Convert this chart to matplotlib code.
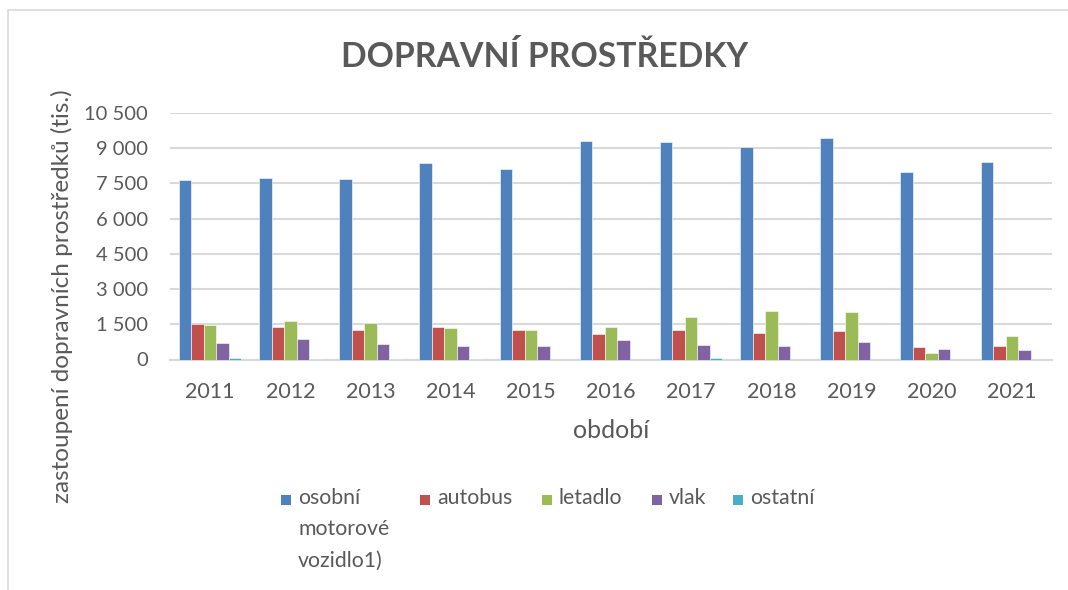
import numpy as np
import matplotlib
matplotlib.use('Agg')
import matplotlib.pyplot as plt
from matplotlib.patches import Rectangle
from matplotlib.ticker import FuncFormatter

plt.rcParams['font.family'] = ['Lato', 'DejaVu Sans']

# data (tis.)
years = ['2011', '2012', '2013', '2014', '2015', '2016', '2017', '2018', '2019', '2020', '2021']
osobni = [7650, 7730, 7700, 8370, 8130, 9300, 9260, 9040, 9450, 7980, 8410]
autobus = [1510, 1390, 1260, 1370, 1260, 1070, 1270, 1110, 1230, 540, 580]
letadlo = [1470, 1640, 1560, 1330, 1260, 1400, 1800, 2060, 2040, 260, 1010]
vlak = [710, 860, 640, 570, 580, 810, 600, 570, 740, 440, 390]
ostatni = [80, 40, 40, 30, 0, 0, 50, 0, 0, 0, 0]

series = [
    ('osobní\nmotorové\nvozidlo1)', osobni, '#4F81BD'),
    ('autobus', autobus, '#C0504D'),
    ('letadlo', letadlo, '#9BBB59'),
    ('vlak', vlak, '#8064A2'),
    ('ostatní', ostatni, '#4BACC6'),
]

W, H = 1068, 590
fig = plt.figure(figsize=(W / 100, H / 100), dpi=100)
txt = '#595959'

# chart area border (only top and left visible)
fig.patches.append(Rectangle((8 / W, -0.1), 1.2, (H - 10) / H + 0.1, transform=fig.transFigure,
                             fill=False, edgecolor='#d9d9d9', lw=1.2))

ax = fig.add_axes([170 / W, 1 - 359.5 / H, (1052 - 170) / W, (359.5 - 113) / H])

x = np.arange(len(years))
bw = 0.156
for i, (name, vals, col) in enumerate(series):
    ax.bar(x + (i - 2) * bw, vals, bw, color=col, edgecolor='#ffffff', linewidth=0.4, zorder=3)

ax.set_xlim(-0.5, len(years) - 0.5)
ax.set_ylim(0, 10500)
ax.set_yticks(np.arange(0, 10501, 1500))
ax.yaxis.set_major_formatter(FuncFormatter(lambda v, p: f'{int(v):,}'.replace(',', ' ')))
ax.set_xticks(x)
ax.set_xticklabels(years)
ax.grid(axis='y', color='#d9d9d9', lw=1.5, zorder=0)
for s in ['top', 'right', 'left']:
    ax.spines[s].set_visible(False)
ax.spines['bottom'].set_color('#d9d9d9')
ax.spines['bottom'].set_linewidth(1.5)
ax.tick_params(axis='both', length=0, labelcolor=txt)
ax.tick_params(axis='y', pad=16, labelsize=14.5)
ax.tick_params(axis='x', pad=16, labelsize=15.5)

fig.text(611 / W, 1 - 430 / H, 'období', ha='center', va='center', fontsize=18, color=txt)

fig.text(545 / W, 1 - 57 / H, 'DOPRAVNÍ PROSTŘEDKY', ha='center', va='center',
         fontsize=24.3, fontweight='bold', color=txt)
fig.text(62 / W, 1 - 296 / H, 'zastoupení dopravních prostředků (tis.)', rotation=90,
         ha='center', va='center', fontsize=17.5, color=txt)

# legend
leg_x = [281, 420, 542, 652, 733]
for (name, vals, col), lx in zip(series, leg_x):
    fig.patches.append(Rectangle((lx / W, 1 - 505 / H), 10 / W, 10 / H, transform=fig.transFigure,
                                 facecolor=col, edgecolor='none'))
    fig.text((lx + 17) / W, 1 - 488 / H, name, ha='left', va='top', fontsize=15.3,
             color=txt, linespacing=1.7)

fig.savefig('out.png', dpi=100)
